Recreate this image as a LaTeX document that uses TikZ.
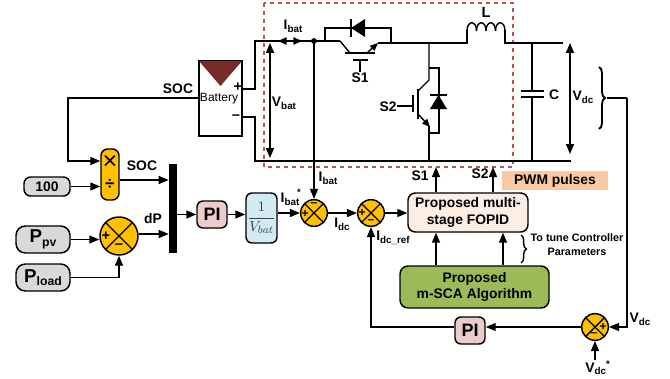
\documentclass[tikz,border=0pt]{standalone}
\usepackage{fontspec}
\setmainfont{Liberation Sans}
\usetikzlibrary{arrows.meta,decorations.pathreplacing}
\definecolor{sumfill}{HTML}{FFC000}
\definecolor{greybox}{HTML}{D9D9D9}
\definecolor{pifill}{HTML}{ECCBCB}
\definecolor{gainfill}{HTML}{D2EAF1}
\definecolor{fopidfill}{HTML}{FDEEE3}
\definecolor{scafill}{HTML}{9BBB59}
\definecolor{pwmfill}{HTML}{FAC9A2}
\definecolor{dashred}{HTML}{C0504D}
\definecolor{batbrown}{HTML}{772C2A}
\newcommand{\subl}[3][7.4]{#2\raisebox{-.35ex}{\fontsize{#1}{#1}\selectfont #3}}
\tikzset{
  wire/.style={line width=1.05pt},
  sig/.style={wire,-{Triangle[length=7.5pt,width=6pt]}},
  lab/.style={font=\bfseries\fontsize{10.4}{10.4}\selectfont,inner sep=0pt},
  block/.style={draw,line width=1.1pt,rounded corners=4.5pt,inner sep=0pt,align=center,font=\bfseries\fontsize{10.4}{12.6}\selectfont},
  sumnode/.style={circle,draw,line width=1.1pt,fill=sumfill,inner sep=0pt,minimum size=20pt,
    path picture={\draw[line width=1.05pt] (path picture bounding box.north west) -- (path picture bounding box.south east)
      (path picture bounding box.north east) -- (path picture bounding box.south west);}},
  sgn/.style={inner sep=0pt,font=\bfseries\fontsize{9}{9}\selectfont}
}
\begin{document}
\begin{tikzpicture}[x=0.75pt,y=-0.75pt]
  \useasboundingbox (0,0) rectangle (670,378);
  % converter
  \draw[dashred,line width=2.1pt,dash pattern=on 3pt off 3pt] (264,3) rectangle (513,167);
  \node[draw,wire,minimum width=32.25pt,minimum height=56.25pt,inner sep=0pt] (battery) at (220.5,98.5) {};
  \fill[batbrown] (battery.north west) -- (battery.north east) -- (220.5,86) -- cycle;
  \draw[wire] (battery.north west) rectangle (battery.south east);
  \node[inner sep=0pt,font=\fontsize{9}{9}\selectfont] (battxt) at (219,99) {Battery};
  \node[sgn,font=\bfseries\fontsize{11}{11}\selectfont] (batplus) at (238,87) {+};
  \node[sgn,font=\bfseries\fontsize{11}{11}\selectfont] (batminus) at (236,117) {--};
  \coordinate (railtl) at (255,41);
  \coordinate (railbl) at (255,161);
  \coordinate (railbr) at (571,161);
  \coordinate (sone) at (340,41);
  \coordinate (midtop) at (429,43);
  \coordinate (ltop) at (467,43);
  \coordinate (rtop) at (505,43);
  \coordinate (railtr) at (563,43);
  \draw[wire] (battery.east |- 0,89) -| (railtl) -- (sone);
  \draw[wire] (battery.east |- 0,117) -| (railbl) -- (railbr);
  \fill (314,41) circle (2.2pt) coordinate (ibatdot);
  \draw[wire,{Triangle[length=6.5pt,width=5.5pt]}-{Triangle[length=6.5pt,width=5.5pt]}] (278,41) -- (302,41);
  \draw[wire,{Triangle[length=7.5pt,width=6pt]}-{Triangle[length=7.5pt,width=6pt]}] (270,43) -- (270,158);
  \node[lab] (ibattop) at (293,26) {\subl{I}{bat}};
  \node[lab] (vbat) at (284,103) {\subl{V}{bat}};
  % S1
  \draw[wire] (sone) -- (350,53);
  \draw[wire] (345,53) -- (375,53);
  \draw[wire,-{Triangle[length=6pt,width=5pt]}] (367,53) -- (378,43);
  \draw[wire] (378,43) -- (ltop) -- (467,30);
  \draw[wire] (353,60) -- (368,60) (360,60) -- (360,72);
  \node[lab] (sonelab) at (360,78) {S1};
  \draw[wire] (325,41) |- (391,28) -- (391,43);
  \fill (365,19) -- (365,37) -- (351,28) -- cycle;
  \draw[wire] (351,19) -- (351,37);
  % inductor
  \foreach \k in {0,1,2,3}
    \draw[wire] (467+\k*9.5,31) .. controls (467+\k*9.5,20) and (476.5+\k*9.5,20) .. (476.5+\k*9.5,31);
  \draw[wire] (505,30) -- (rtop) -- (railtr);
  \node[lab,font=\bfseries\fontsize{11}{11}\selectfont] (llab) at (486,12) {L};
  % S2
  \draw[wire] (midtop) -- (429,80) -- (418,91);
  \draw[wire] (418,89) -- (418,119);
  \draw[wire,-{Triangle[length=6pt,width=5pt]}] (418,114) -- (430,127);
  \draw[wire] (429,126) -- (429,161);
  \draw[wire] (429,68) -| (439,133) -- (429,133);
  \fill (430,109) -- (447,109) -- (438.5,95) -- cycle;
  \draw[wire] (430,95) -- (447,95);
  \draw[wire] (413,95) -- (413,112) (413,106) -- (397,106);
  \node[lab] (stwolab) at (388,107) {S2};
  % output
  \draw[wire] (532,43) -- (532,91) (532,97) -- (532,161);
  \draw[wire] (521,91) -- (544,91) (521,97) -- (544,97);
  \node[lab] (clab) at (554,95) {C};
  \draw[wire,{Triangle[length=7.5pt,width=6pt]}-{Triangle[length=7.5pt,width=6pt]}] (570,43) -- (570,154);
  \node[lab] (vdclab) at (583,97) {\subl{V}{dc}};
  \draw[line width=1.4pt,decorate,decoration={brace,amplitude=4.5pt}] (599,67) -- (599,129) coordinate[midway,xshift=6pt] (bracetip);
  % controller
  \node[block,fill=greybox,minimum width=34.5pt,minimum height=14.25pt,rounded corners=5pt] (pct) at (47,186.5) {100};
  \node[block,fill=greybox,minimum width=40.5pt,minimum height=20.25pt,rounded corners=7pt] (ppv) at (43,239.5) {\subl[9.2]{\fontsize{14}{14}\selectfont P}{pv}};
  \node[block,fill=greybox,minimum width=40.5pt,minimum height=20.25pt,rounded corners=7pt] (pload) at (43,277.5) {\subl[9.2]{\fontsize{14}{14}\selectfont P}{load}};
  \node[block,fill=sumfill,minimum width=13.5pt,minimum height=38.25pt,rounded corners=5pt] (mul) at (110,174.5) {};
  \node[inner sep=0pt,font=\fontsize{19}{19}\selectfont] (multimes) at (110,162) {×};
  \node[inner sep=0pt,font=\bfseries\fontsize{13}{13}\selectfont] (muldiv) at (110,184) {÷};
  \node[sumnode,minimum size=28.5pt] (dpsum) at (119,236) {};
  \node[sgn,font=\bfseries\fontsize{11}{11}\selectfont] (dpplus) at (106,236) {+};
  \node[sgn,font=\bfseries\fontsize{11}{11}\selectfont] (dpminus) at (119,246) {--};
  \node[fill=black,inner sep=0pt,minimum width=6pt,minimum height=66.75pt] (mux) at (173,208.5) {};
  \node[block,fill=pifill,minimum width=22.5pt,minimum height=20.25pt,font=\bfseries\fontsize{13.5}{13.5}\selectfont] (pia) at (212,214.5) {PI};
  \node[block,fill=gainfill,minimum width=23.25pt,minimum height=37.5pt] (gain) at (261.5,218) {\color{black!75}\normalfont\fontsize{11}{13}\selectfont$\displaystyle\frac{1}{V_{bat}}$};
  \node[sumnode] (ibatsum) at (314,213) {};
  \node[sgn] (ibatminus) at (314,205) {--};
  \node[sgn] (ibatplus) at (305,214) {+};
  \node[sumnode] (idcsum) at (371,213) {};
  \node[sgn] (idcplus) at (362,213) {+};
  \node[sgn] (idcminus) at (371,222) {--};
  \node[block,fill=fopidfill,minimum width=90pt,minimum height=29.25pt,rounded corners=5.5pt] (fopid) at (468,212.5) {Proposed multi-\\stage FOPID};
  \node[block,fill=scafill,minimum width=111.75pt,minimum height=31.5pt,rounded corners=6pt] (msca) at (474.5,287) {Proposed\\m-SCA Algorithm};
  \node[block,fill=pifill,minimum width=22.5pt,minimum height=20.25pt,font=\bfseries\fontsize{13.5}{13.5}\selectfont] (pib) at (470,330.5) {PI};
  \node[sumnode] (vdcsum) at (595,327) {};
  \node[sgn] (vdcplus) at (603,327) {+};
  \node[sgn] (vdcminus) at (594,335) {--};
  \node[fill=pwmfill,inner sep=0pt,minimum width=79.5pt,minimum height=14.25pt,font=\bfseries\fontsize{10.4}{10.4}\selectfont] (pwm) at (555,180.5) {PWM pulses};
  \coordinate (vdcref) at (595,360);
  % signals
  \draw[sig] (battery.west |- 0,98) -| (68,161) -- (68,161 -| mul.west);
  \draw[sig] (pct.east) -- (pct.east -| mul.west);
  \draw[sig] (ppv.east) -- (dpsum.west |- ppv.east);
  \draw[sig] (pload.east) -| (dpsum.south);
  \draw[sig] (mul.east |- 0,180) -- (mux.west |- 0,180);
  \draw[sig] (dpsum.east |- 0,234) -- (mux.west |- 0,234);
  \draw[sig] (mux.east |- pia.west) -- (pia.west);
  \draw[sig] (pia.east) -- (gain.west |- pia.east);
  \draw[sig] (gain.east |- ibatsum.west) -- (ibatsum.west);
  \draw[sig] (ibatdot) -- (ibatsum.north);
  \draw[sig] (ibatsum.east) -- (idcsum.west);
  \draw[sig] (idcsum.east) -- (idcsum.east -| fopid.west);
  \draw[sig] (msca.north -| 436,0) -- (fopid.south -| 436,0);
  \draw[sig] (msca.north -| 503,0) -- (fopid.south -| 503,0);
  \draw[sig] (fopid.north -| 436,0) -- (436,167);
  \draw[sig] (fopid.north -| 493,0) -- (493,167);
  \draw[wire] (bracetip) -- (627,98) coordinate (vdcturn);
  \draw[sig] (vdcturn) |- (vdcsum.east);
  \draw[sig] (vdcref) -- (vdcsum.south);
  \draw[sig] (vdcsum.west) -- (pib.east |- vdcsum.west);
  \draw[sig] (pib.west |- vdcsum.west) -| (idcsum.south);
  \draw[wire,decorate,decoration={brace,amplitude=4pt}] (521,235) -- (521,263);
  % labels
  \node[lab] (soctop) at (178,89) {SOC};
  \node[lab] (soclow) at (142,166) {SOC};
  \node[lab] (dplab) at (153,219) {dP};
  \node[lab] (ibatstar) at (290,199) {\subl{I}{bat}};
  \node[inner sep=0pt,font=\bfseries\fontsize{7}{7}\selectfont] (ibatast) at (299,192) {*};
  \node[lab] (ibatlab) at (328,178) {\subl{I}{bat}};
  \node[lab] (idclab) at (342,224) {\subl{I}{dc}};
  \node[lab] (idcref) at (393,238) {\subl{I}{dc\_ref}};
  \node[lab] (sonect) at (420,176) {S1};
  \node[lab] (stwoct) at (480,174) {S2};
  \node[lab,font=\bfseries\fontsize{8.1}{10}\selectfont,align=center] (tune) at (577,244.5) {To tune Controller\\Parameters};
  \node[lab] (vdcfb) at (640,319) {\subl{V}{dc}};
  \node[lab] (vdcstar) at (598,368) {\subl{V}{dc}\textsuperscript{*}};
\end{tikzpicture}
\end{document}
